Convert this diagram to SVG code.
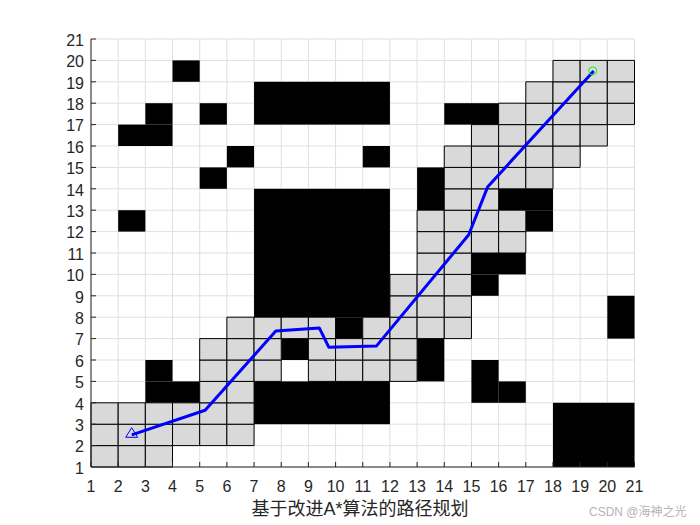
<svg xmlns="http://www.w3.org/2000/svg" width="700" height="525" viewBox="0 0 700 525">
<style>
.grid{fill:none;stroke:#dfdfdf;stroke-width:1;vector-effect:non-scaling-stroke}
.g rect{fill:#d9d9d9;stroke:#000;stroke-width:1;vector-effect:non-scaling-stroke}
.b rect{fill:#000;stroke:none}
.ax{fill:none;stroke:#262626;stroke-width:1}
.tk{font-family:"Liberation Sans",Arial,sans-serif;font-size:16px;fill:#262626}
.xt{text-anchor:middle}
.yt{text-anchor:end}
.lbl{font-family:"Liberation Sans","Noto Sans CJK SC",sans-serif;font-size:18px;fill:#262626;text-anchor:middle}
.wm{font-family:"Liberation Sans","Noto Sans CJK SC",sans-serif;font-size:12px;fill:#b4b4b4}
</style>
<rect width="700" height="525" fill="#fff"/>
<g id="map" transform="matrix(27.175 0 0 -21.4 63.825 488.4)">
<path class="grid" d="M1 1V21M2 1V21M3 1V21M4 1V21M5 1V21M6 1V21M7 1V21M8 1V21M9 1V21M10 1V21M11 1V21M12 1V21M13 1V21M14 1V21M15 1V21M16 1V21M17 1V21M18 1V21M19 1V21M20 1V21M21 1V21M1 1H21M1 2H21M1 3H21M1 4H21M1 5H21M1 6H21M1 7H21M1 8H21M1 9H21M1 10H21M1 11H21M1 12H21M1 13H21M1 14H21M1 15H21M1 16H21M1 17H21M1 18H21M1 19H21M1 20H21M1 21H21"/>
<g id="obstacles" class="b">
<rect x="4" y="19" width="1" height="1"/>
<rect x="7" y="17" width="5" height="2"/>
<rect x="3" y="17" width="1" height="1"/>
<rect x="2" y="16" width="2" height="1"/>
<rect x="5" y="17" width="1" height="1"/>
<rect x="6" y="15" width="1" height="1"/>
<rect x="5" y="14" width="1" height="1"/>
<rect x="2" y="12" width="1" height="1"/>
<rect x="7" y="8" width="5" height="6"/>
<rect x="10" y="7" width="1" height="1"/>
<rect x="8" y="6" width="1" height="1"/>
<rect x="3" y="5" width="1" height="1"/>
<rect x="3" y="4" width="2" height="1"/>
<rect x="7" y="3" width="5" height="2"/>
<rect x="11" y="15" width="1" height="1"/>
<rect x="14" y="17" width="2" height="1"/>
<rect x="13" y="13" width="1" height="2"/>
<rect x="16" y="13" width="2" height="1"/>
<rect x="17" y="12" width="1" height="1"/>
<rect x="15" y="10" width="2" height="1"/>
<rect x="15" y="9" width="1" height="1"/>
<rect x="20" y="7" width="1" height="2"/>
<rect x="13" y="5" width="1" height="2"/>
<rect x="15" y="4" width="1" height="2"/>
<rect x="16" y="4" width="1" height="1"/>
<rect x="18" y="1" width="3" height="3"/>
</g>
<g id="searched" class="g">
<rect x="1" y="1" width="1" height="1"/><rect x="2" y="1" width="1" height="1"/><rect x="3" y="1" width="1" height="1"/>
<rect x="1" y="2" width="1" height="1"/><rect x="2" y="2" width="1" height="1"/><rect x="3" y="2" width="1" height="1"/><rect x="4" y="2" width="1" height="1"/><rect x="5" y="2" width="1" height="1"/><rect x="6" y="2" width="1" height="1"/>
<rect x="1" y="3" width="1" height="1"/><rect x="2" y="3" width="1" height="1"/><rect x="3" y="3" width="1" height="1"/><rect x="4" y="3" width="1" height="1"/><rect x="5" y="3" width="1" height="1"/><rect x="6" y="3" width="1" height="1"/>
<rect x="5" y="4" width="1" height="1"/><rect x="6" y="4" width="1" height="1"/>
<rect x="5" y="5" width="1" height="1"/><rect x="6" y="5" width="1" height="1"/><rect x="7" y="5" width="1" height="1"/><rect x="9" y="5" width="1" height="1"/><rect x="10" y="5" width="1" height="1"/><rect x="11" y="5" width="1" height="1"/><rect x="12" y="5" width="1" height="1"/>
<rect x="5" y="6" width="1" height="1"/><rect x="6" y="6" width="1" height="1"/><rect x="7" y="6" width="1" height="1"/><rect x="9" y="6" width="1" height="1"/><rect x="10" y="6" width="1" height="1"/><rect x="11" y="6" width="1" height="1"/><rect x="12" y="6" width="1" height="1"/>
<rect x="6" y="7" width="1" height="1"/><rect x="7" y="7" width="1" height="1"/><rect x="8" y="7" width="1" height="1"/><rect x="9" y="7" width="1" height="1"/><rect x="11" y="7" width="1" height="1"/><rect x="12" y="7" width="1" height="1"/><rect x="13" y="7" width="1" height="1"/><rect x="14" y="7" width="1" height="1"/>
<rect x="12" y="8" width="1" height="1"/><rect x="13" y="8" width="1" height="1"/><rect x="14" y="8" width="1" height="1"/>
<rect x="12" y="9" width="1" height="1"/><rect x="13" y="9" width="1" height="1"/><rect x="14" y="9" width="1" height="1"/>
<rect x="13" y="10" width="1" height="1"/><rect x="14" y="10" width="1" height="1"/>
<rect x="13" y="11" width="1" height="1"/><rect x="14" y="11" width="1" height="1"/><rect x="15" y="11" width="1" height="1"/><rect x="16" y="11" width="1" height="1"/>
<rect x="13" y="12" width="1" height="1"/><rect x="14" y="12" width="1" height="1"/><rect x="15" y="12" width="1" height="1"/><rect x="16" y="12" width="1" height="1"/>
<rect x="14" y="13" width="1" height="1"/><rect x="15" y="13" width="1" height="1"/>
<rect x="14" y="14" width="1" height="1"/><rect x="15" y="14" width="1" height="1"/><rect x="16" y="14" width="1" height="1"/><rect x="17" y="14" width="1" height="1"/>
<rect x="14" y="15" width="1" height="1"/><rect x="15" y="15" width="1" height="1"/><rect x="16" y="15" width="1" height="1"/><rect x="17" y="15" width="1" height="1"/><rect x="18" y="15" width="1" height="1"/>
<rect x="15" y="16" width="1" height="1"/><rect x="16" y="16" width="1" height="1"/><rect x="17" y="16" width="1" height="1"/><rect x="18" y="16" width="1" height="1"/><rect x="19" y="16" width="1" height="1"/>
<rect x="16" y="17" width="1" height="1"/><rect x="17" y="17" width="1" height="1"/><rect x="18" y="17" width="1" height="1"/><rect x="19" y="17" width="1" height="1"/><rect x="20" y="17" width="1" height="1"/>
<rect x="17" y="18" width="1" height="1"/><rect x="18" y="18" width="1" height="1"/><rect x="19" y="18" width="1" height="1"/><rect x="20" y="18" width="1" height="1"/>
<rect x="18" y="19" width="1" height="1"/><rect x="19" y="19" width="1" height="1"/><rect x="20" y="19" width="1" height="1"/>
</g>
</g>
<g id="axes">
<path class="ax" d="M91 39V467H634.5"/>
<path class="ax" d="M91 467v-5M118.18 467v-5M145.35 467v-5M172.53 467v-5M199.7 467v-5M226.88 467v-5M254.05 467v-5M281.23 467v-5M308.4 467v-5M335.58 467v-5M362.75 467v-5M389.93 467v-5M417.1 467v-5M444.28 467v-5M471.45 467v-5M498.63 467v-5M525.8 467v-5M552.98 467v-5M580.15 467v-5M607.33 467v-5M634.5 467v-5M91 445.6h5M91 424.2h5M91 402.8h5M91 381.4h5M91 360h5M91 338.6h5M91 317.2h5M91 295.8h5M91 274.4h5M91 253h5M91 231.6h5M91 210.2h5M91 188.8h5M91 167.4h5M91 146h5M91 124.6h5M91 103.2h5M91 81.8h5M91 60.4h5M91 39h5"/>
<g class="tk xt">
<text x="91" y="491.5">1</text><text x="118.18" y="491.5">2</text><text x="145.35" y="491.5">3</text><text x="172.53" y="491.5">4</text><text x="199.7" y="491.5">5</text><text x="226.88" y="491.5">6</text><text x="254.05" y="491.5">7</text><text x="281.23" y="491.5">8</text><text x="308.4" y="491.5">9</text><text x="335.58" y="491.5">10</text><text x="362.75" y="491.5">11</text><text x="389.93" y="491.5">12</text><text x="417.1" y="491.5">13</text><text x="444.28" y="491.5">14</text><text x="471.45" y="491.5">15</text><text x="498.63" y="491.5">16</text><text x="525.8" y="491.5">17</text><text x="552.98" y="491.5">18</text><text x="580.15" y="491.5">19</text><text x="607.33" y="491.5">20</text><text x="634.5" y="491.5">21</text>
</g>
<g class="tk yt">
<text x="84" y="473.8">1</text><text x="84" y="452.4">2</text><text x="84" y="431">3</text><text x="84" y="409.6">4</text><text x="84" y="388.2">5</text><text x="84" y="366.8">6</text><text x="84" y="345.4">7</text><text x="84" y="324">8</text><text x="84" y="302.6">9</text><text x="84" y="281.2">10</text><text x="84" y="259.8">11</text><text x="84" y="238.4">12</text><text x="84" y="217">13</text><text x="84" y="195.6">14</text><text x="84" y="174.2">15</text><text x="84" y="152.8">16</text><text x="84" y="131.4">17</text><text x="84" y="110">18</text><text x="84" y="88.6">19</text><text x="84" y="67.2">20</text><text x="84" y="45.8">21</text>
</g>
<text class="lbl" x="360" y="515">基于改进A*算法的路径规划</text>
</g>
<g id="path">
<polyline points="131.76,434.9 205.14,410.29 275.79,331.11 319.27,327.9 328.78,347.16 376.34,346.09 468.73,234.81 487.76,186.66 593.74,71.1" fill="none" stroke="#0000ff" stroke-width="3" stroke-linejoin="round"/>
</g>
<g id="start">
<polygon points="131.7,427.7 125.7,437.3 137.7,437.3" fill="none" stroke="#0000ff" stroke-width="1"/>
</g>
<g id="goal">
<circle cx="592.7" cy="70.9" r="4" fill="none" stroke="#00ff00" stroke-width="1"/>
</g>
<text class="wm" x="589" y="516">CSDN @海神之光</text>
</svg>
